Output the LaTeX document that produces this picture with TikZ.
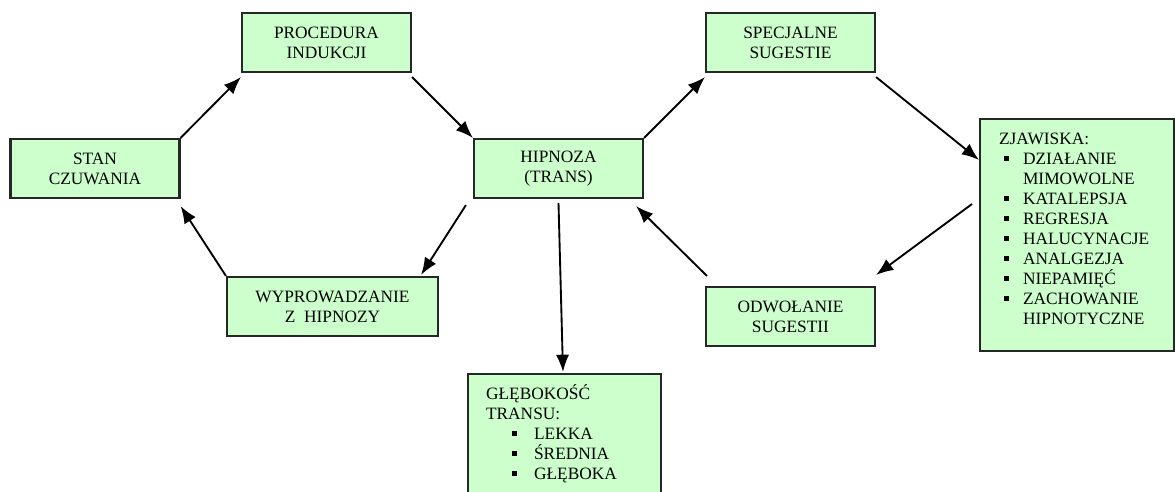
\documentclass[tikz,border=0pt]{standalone}
\usepackage{fontspec}
\setmainfont{Liberation Serif}
\usetikzlibrary{arrows.meta,positioning}
\definecolor{palegreen}{HTML}{CCFFCC}
\newcommand{\sqbullet}{\rule[2.6pt]{3.8pt}{3.8pt}}
\newcommand{\itemsq}[2]{\makebox[#1][l]{\hspace*{#2}\sqbullet}}
\tikzset{
  stage/.style={rectangle, draw=black!85, fill=palegreen, line width=1.6pt, minimum width=126.75pt, minimum height=44.25pt, align=center, inner sep=2pt, font=\fontsize{13}{15}\selectfont},
  listbox/.style={rectangle, draw=black!85, fill=palegreen, line width=1.6pt, anchor=north west, inner ysep=0pt, align=left, text height=18.75pt, font=\fontsize{13}{15}\selectfont},
  arrow/.style={-{Latex[length=13pt,width=10pt]}, line width=1.4pt}
}

\begin{document}
\begin{tikzpicture}[x=0.75pt, y=-0.75pt]
  \useasboundingbox (0,0) rectangle (1175,492);
  \node[stage] (stan) at (95,168.5) {STAN\\CZUWANIA};
  \node[stage] (proc) at (326.5,42.5) {PROCEDURA\\INDUKCJI};
  \node[stage] (hip) at (558.5,168.5) {HIPNOZA\\(TRANS)};
  \node[stage] (spec) at (790.5,42.5) {SPECJALNE\\SUGESTIE};
  \node[stage, minimum width=158.25pt] (wypr) at (332.5,306.5) {WYPROWADZANIE\\Z\ \ HIPNOZY};
  \node[stage] (odw) at (790.5,316.5) {ODWOŁANIE\\SUGESTII};
  \node[listbox, inner xsep=14.25pt, text width=117pt, text depth=155.25pt] (zjaw) at (979,118) {ZJAWISKA:\\
    \itemsq{18pt}{3.75pt}DZIAŁANIE\\
    \hspace*{18pt}MIMOWOLNE\\
    \itemsq{18pt}{3.75pt}KATALEPSJA\\
    \itemsq{18pt}{3.75pt}REGRESJA\\
    \itemsq{18pt}{3.75pt}HALUCYNACJE\\
    \itemsq{18pt}{3.75pt}ANALGEZJA\\
    \itemsq{18pt}{3.75pt}NIEPAMIĘĆ\\
    \itemsq{18pt}{3.75pt}ZACHOWANIE\\
    \hspace*{18pt}HIPNOTYCZNE};
  \node[listbox, inner xsep=13.5pt, text width=117.75pt, text depth=120pt] (glab) at (467,373) {GŁĘBOKOŚĆ\\
    TRANSU:\\
    \itemsq{36pt}{19.5pt}LEKKA\\
    \itemsq{36pt}{19.5pt}ŚREDNIA\\
    \itemsq{36pt}{19.5pt}GŁĘBOKA};
  \draw[arrow] (stan.north east) -- ([yshift=-3pt]proc.south west);
  \draw[arrow] ([yshift=-3pt]proc.south east) -- (hip.north west);
  \draw[arrow] (hip.north east) -- ([yshift=-3pt]spec.south west);
  \draw[arrow] ([yshift=-3pt]spec.south east) -- ([yshift=-31.5pt]zjaw.north west);
  \draw[arrow] ([xshift=-5.25pt,yshift=-64.5pt]zjaw.north west) -- ([yshift=8.25pt]odw.north east);
  \draw[arrow] ([xshift=1.5pt,yshift=7.5pt]odw.north west) -- ([xshift=-6pt,yshift=-5.25pt]hip.south east);
  \draw[arrow] ([xshift=-5.25pt,yshift=-4.5pt]hip.south west) -- ([xshift=-13.5pt,yshift=0.75pt]wypr.north east);
  \draw[arrow] (wypr.north west) -- ([yshift=-5.25pt]stan.south east);
  \draw[arrow] ([yshift=-3pt]hip.south) -- ([xshift=72pt,yshift=0.75pt]glab.north west);
\end{tikzpicture}
\end{document}
